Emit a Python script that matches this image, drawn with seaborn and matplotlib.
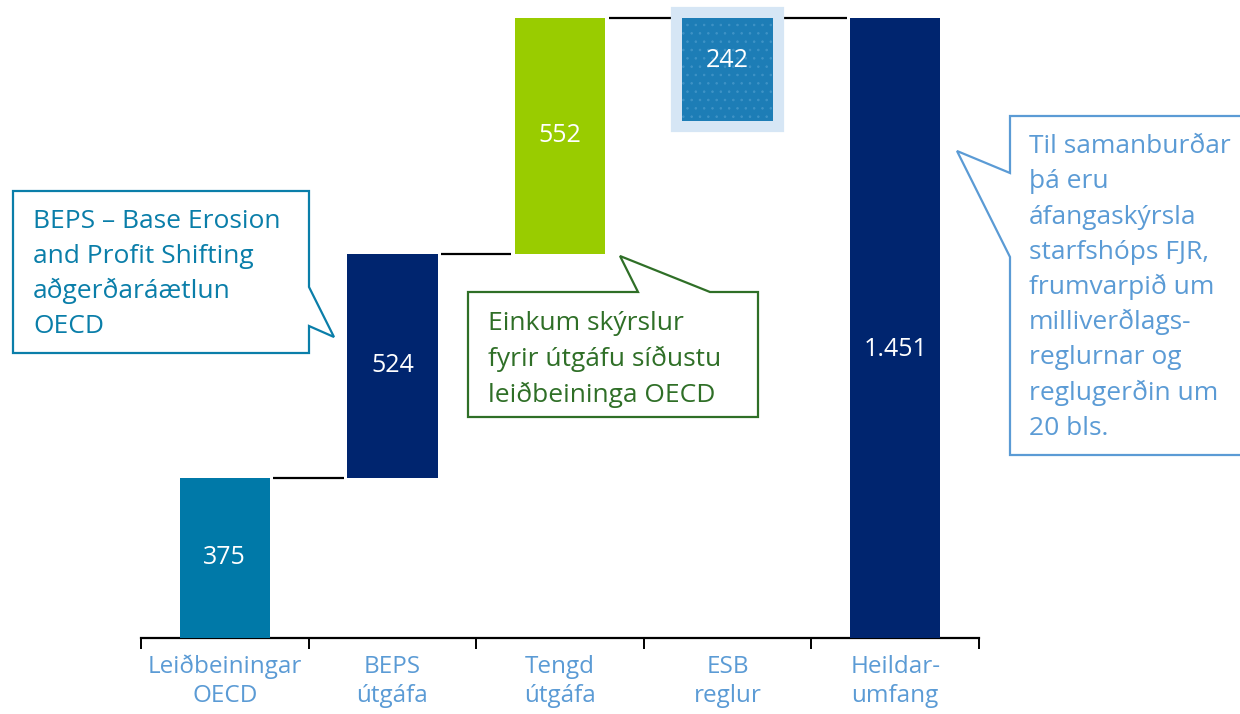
import numpy as np
import pandas as pd
import matplotlib
matplotlib.use("Agg")
import matplotlib.pyplot as plt
import matplotlib.patheffects as pe
from matplotlib.patches import Polygon
import seaborn as sns

# ---- data ----
categories = ["Leiðbeiningar\nOECD", "BEPS\nútgáfa", "Tengd\nútgáfa", "ESB\nreglur", "Heildar-\numfang"]
values = [375, 524, 552, 242, 1451]
bar_colors = ["#0079A8", "#00256F", "#99CC00", "#1D7DB6", "#00256F"]

callout_left = ["BEPS – Base Erosion", "and Profit Shifting", "aðgerðaráætlun", "OECD"]
callout_mid = ["Einkum skýrslur", "fyrir útgáfu síðustu", "leiðbeininga OECD"]
callout_right = ["Til samanburðar", "þá eru", "áfangaskýrsla", "starfshóps FJR,",
                 "frumvarpið um", "milliverðlags-", "reglurnar og", "reglugerðin um", "20 bls."]

# waterfall bottoms: first three stack, ESB hangs from the total, total from 0
cum = np.cumsum(values[:3])
total = values[4]
bottoms = [0, cum[0], cum[1], total - values[3], 0]
levels = [cum[0], cum[1], cum[2], total]  # connector levels
label_frac = [0.5, 0.5, 0.5, 0.59, 0.466]  # vertical position of value label within bar

sns.set_theme(style="white")
FONT = ["Open Sans", "DejaVu Sans"]
plt.rcParams["font.family"] = FONT
plt.rcParams["hatch.linewidth"] = 0.6

W, H = 1240, 714
fig = plt.figure(figsize=(W / 100, H / 100), dpi=100)
ax = fig.add_axes([141 / W, 76 / H, 838 / W, 638 / H])

df = pd.DataFrame({"kategori": categories, "gildi": values, "botn": bottoms})
sns.barplot(data=df, x="kategori", y="gildi", bottom=df["botn"].values,
            color=bar_colors[1], width=0.54, errorbar=None, ax=ax,
            linewidth=0, zorder=3)

for p, c in zip(ax.patches, bar_colors):
    p.set_facecolor(c)
    p.set_edgecolor("none")

# ESB bar: textured with light halo
esb = ax.patches[3]
esb.set_path_effects([pe.Stroke(linewidth=16, foreground="#D6E6F5", joinstyle="miter"),
                      pe.Normal()])
esb.set_hatch("..")
esb.set_edgecolor("#3F93C6")
esb.set_linewidth(0)

# connectors
for i, lv in enumerate(levels):
    ax.hlines(lv, i + 0.29, i + 0.71, color="black", lw=1.6, zorder=2)

# value labels
for i, (v, b, f) in enumerate(zip(values, bottoms, label_frac)):
    txt = f"{v:,}".replace(",", ".")
    ax.text(i, b + v * f, txt, ha="center", va="center", color="white",
            fontsize=18, zorder=5)

ax.set_xlim(-0.5, 4.5)
ax.set_ylim(0, total * 638 / 620)
ax.set_yticks([])
ax.set_xlabel("")
ax.set_ylabel("")
for s in ["top", "right", "left"]:
    ax.spines[s].set_visible(False)
ax.spines["bottom"].set_color("black")
ax.spines["bottom"].set_linewidth(1.6)

ax.set_xticks(range(len(categories)))
ax.set_xticklabels(categories, color="#5B9BD5", fontsize=17.5, linespacing=1.28)
ax.tick_params(axis="x", which="major", length=0, pad=12)
ax.set_xticks(np.arange(-0.5, 5, 1.0), minor=True)
ax.tick_params(axis="x", which="minor", length=8, width=1.4, color="black", bottom=True)


def px(points):
    return [(x / W, 1 - y / H) for x, y in points]


def callout(points, color, lines, x0, y0, dy, fs):
    poly = Polygon(px(points), closed=True, facecolor="white", edgecolor=color,
                   lw=1.6, transform=fig.transFigure, zorder=10)
    fig.add_artist(poly)
    for k, line in enumerate(lines):
        fig.text(x0 / W, 1 - (y0 + k * dy) / H, line, color=color, fontsize=fs,
                 va="baseline", ha="left", zorder=11)


callout([(13, 191), (309, 191), (309, 287), (334, 337), (309, 326), (309, 353), (13, 353)],
        "#0A7EA9", callout_left, 33, 228, 35, 19)
callout([(468, 292), (638, 292), (620, 256), (710, 292), (758, 292), (758, 417), (468, 417)],
        "#2F6F27", callout_mid, 488, 330, 36, 19)
callout([(1010, 116), (1260, 116), (1260, 455), (1010, 455), (1010, 257), (957, 151), (1010, 173)],
        "#5B9BD5", callout_right, 1029, 153, 35.25, 19)

fig.savefig("out.png", dpi=100)
